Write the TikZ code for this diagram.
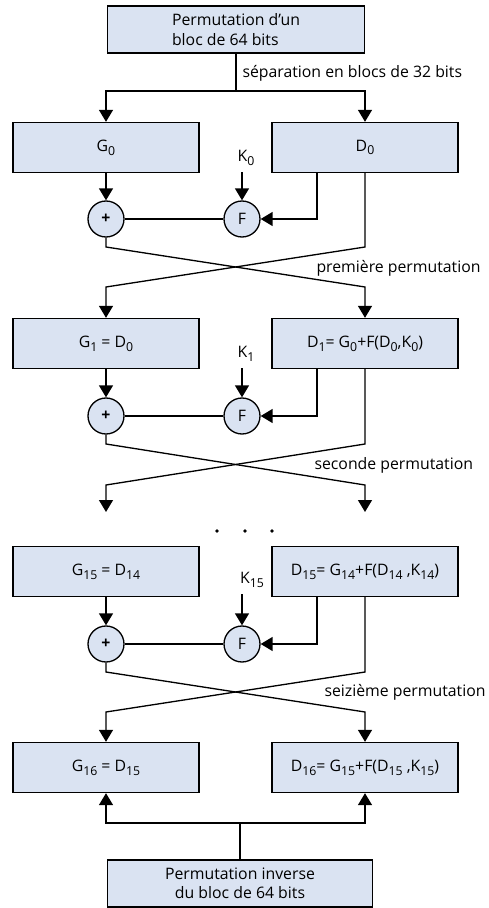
\documentclass[tikz,border=0pt]{standalone}
\usepackage{fontspec}
\setmainfont{Open Sans}
\usetikzlibrary{arrows.meta}
\definecolor{boxblue}{RGB}{218,227,242}
\newcommand{\ix}[1]{\raisebox{-0.45ex}{\scriptsize #1}}

\begin{document}
\begin{tikzpicture}[x=0.02cm, y=-0.02cm, line width=0.75pt,
        font=\fontsize{9}{11}\selectfont,
        blok/.style={draw, fill=boxblue, minimum width=3.72cm, minimum height=1cm, inner sep=1pt},
        rond/.style={draw, fill=boxblue, circle, minimum size=0.72cm, inner sep=0pt},
        fleche/.style={-{Triangle[width=0.28cm, length=0.24cm]}}]
        \useasboundingbox (0,0) rectangle (489,908);

        % permutation initiale
        \node[blok, minimum width=5.14cm, minimum height=0.94cm, align=left] (perm) at (236,29.5) {Permutation d’un\\bloc de 64 bits\hspace*{1.2em}};
        \coordinate (split) at (236,91);
        \node[anchor=west] (sep) at (236,73) {séparation en blocs de 32 bits};

        % tour 0
        \node[blok] (g0) at (106,147.5) {G\ix{0}};
        \node[blok] (d0) at (365,147.5) {D\ix{0}};
        \node[rond] (plus0) at (106,219) {\textbf{+}};
        \node[rond] (f0) at (242,219) {F};
        \node (k0) at (246,158) {K\ix{0}};

        % tour 1
        \node[blok] (g1) at (106,343.5) {G\ix{1} = D\ix{0}};
        \node[blok] (d1) at (365,343.5) {D\ix{1}= G\ix{0}+F(D\ix{0},K\ix{0})};
        \node[rond] (plus1) at (106,416) {\textbf{+}};
        \node[rond] (f1) at (242,416) {F};
        \node (k1) at (246,354) {K\ix{1}};
        \coordinate (e1l) at (106,512);
        \coordinate (e1r) at (365,512);

        % tour 15
        \node[blok] (g15) at (106,571.5) {G\ix{15} = D\ix{14}};
        \node[blok] (d15) at (365,571.5) {D\ix{15}= G\ix{14}+F(D\ix{14} ,K\ix{14})};
        \node[rond] (plus15) at (106,644) {\textbf{+}};
        \node[rond] (f15) at (242,644) {F};
        \node (k15) at (252,580) {K\ix{15}};

        % tour 16
        \node[blok] (g16) at (106,767.5) {G\ix{16} = D\ix{15}};
        \node[blok] (d16) at (365,767.5) {D\ix{16}= G\ix{15}+F(D\ix{15} ,K\ix{15})};
        \node[blok, minimum width=5.3cm, minimum height=0.94cm, align=center] (inv) at (240,883.5) {Permutation inverse\\du bloc de 64 bits};
        \coordinate (join) at (240,823);

        \draw (perm) -- (split);
        \draw[fleche] (split) -| (g0);
        \draw[fleche] (split) -| (d0);

        \draw[fleche] (g0) -- (plus0);
        \draw[fleche] (k0.south -| f0) -- (f0);
        \draw (plus0) -- (f0);
        \draw[fleche] ([xshift=-0.96cm]d0.south) |- (f0);
        \draw[fleche] (plus0) -- (106,247) -- (365,287) -- (d1.north);
        \draw[fleche] (d0.south) -- (365,247) -- (106,287) -- (g1.north);
        \node[anchor=west] (perm1) at (310,268) {première permutation};

        \draw[fleche] (g1) -- (plus1);
        \draw[fleche] (k1.south -| f1) -- (f1);
        \draw (plus1) -- (f1);
        \draw[fleche] ([xshift=-0.96cm]d1.south) |- (f1);
        \draw[fleche] (plus1) -- (106,444) -- (365,485) -- (e1r);
        \draw[fleche] (d1.south) -- (365,444) -- (106,485) -- (e1l);
        \node[anchor=west] (perm2) at (308,465) {seconde permutation};

        \fill (217,531) circle (1.1pt);
        \fill (245,531) circle (1.1pt);
        \fill (272,531) circle (1.1pt);

        \draw[fleche] (g15) -- (plus15);
        \draw[fleche] (k15.south -| f15) -- (f15);
        \draw (plus15) -- (f15);
        \draw[fleche] ([xshift=-0.96cm]d15.south) |- (f15);
        \draw[fleche] (plus15) -- (106,672) -- (365,712) -- (d16.north);
        \draw[fleche] (d15.south) -- (365,672) -- (106,712) -- (g16.north);
        \node[anchor=west] (perm16) at (318,692) {seizième permutation};

        \draw (inv) -- (join);
        \draw[fleche] (join) -| (g16);
        \draw[fleche] (join) -| (d16);
    \end{tikzpicture}
\end{document}
